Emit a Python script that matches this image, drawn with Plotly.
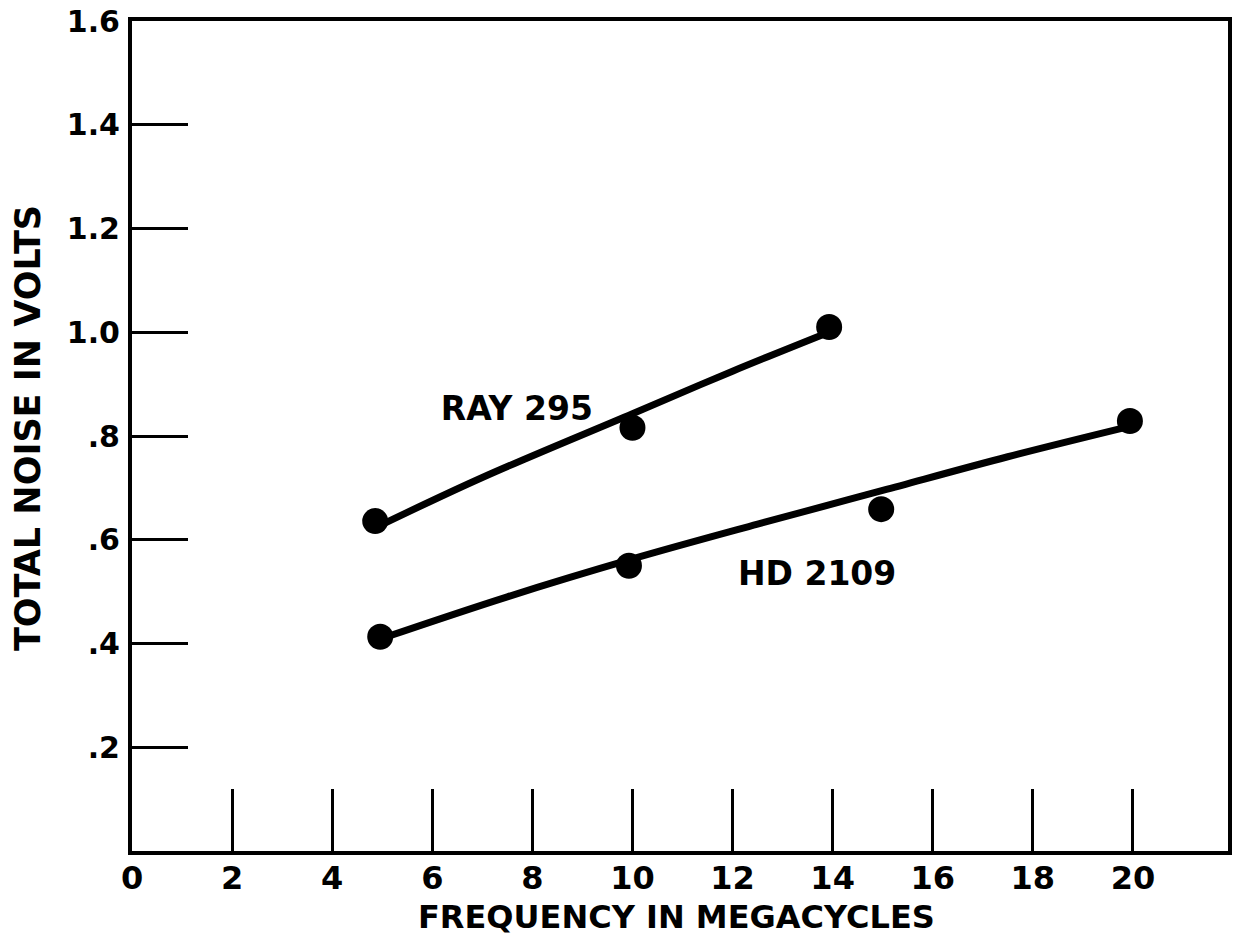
import plotly.graph_objects as go

# Measured points
ray_x = [4.86, 10.0, 13.93]
ray_y = [0.636, 0.816, 1.01]
hd_x = [4.96, 9.93, 14.97, 19.94]
hd_y = [0.413, 0.550, 0.659, 0.829]

# Hand-drawn fitted curves
ray_fit_x = [4.9, 7.0, 10.0, 12.0, 14.0]
ray_fit_y = [0.625, 0.72, 0.843, 0.925, 1.003]
hd_fit_x = [5.0, 7.5, 10.0, 12.5, 15.0, 17.5, 20.0]
hd_fit_y = [0.41, 0.49, 0.563, 0.63, 0.695, 0.76, 0.82]

# Axis ticks
x_ticks = [0, 2, 4, 6, 8, 10, 12, 14, 16, 18, 20]
x_labels = ["0", "2", "4", "6", "8", "10", "12", "14", "16", "18", "20"]
y_ticks = [0.2, 0.4, 0.6, 0.8, 1.0, 1.2, 1.4, 1.6]
y_labels = [".2", ".4", ".6", ".8", "1.0", "1.2", "1.4", "1.6"]

# Curve labels
label_text = ["RAY 295", "HD 2109"]
label_x = [7.69, 13.69]
label_y = [0.846, 0.528]

x_title = "FREQUENCY IN MEGACYCLES"
y_title = "TOTAL NOISE IN VOLTS"

FONT = "DejaVu Sans"

fig = go.Figure()
fig.add_trace(go.Scatter(x=ray_fit_x, y=ray_fit_y, mode="lines",
                         line=dict(color="black", width=7, shape="spline"),
                         showlegend=False, hoverinfo="skip"))
fig.add_trace(go.Scatter(x=hd_fit_x, y=hd_fit_y, mode="lines",
                         line=dict(color="black", width=7, shape="spline"),
                         showlegend=False, hoverinfo="skip"))
fig.add_trace(go.Scatter(x=ray_x, y=ray_y, mode="markers",
                         marker=dict(color="black", size=26),
                         showlegend=False, name="RAY 295"))
fig.add_trace(go.Scatter(x=hd_x, y=hd_y, mode="markers",
                         marker=dict(color="black", size=26),
                         showlegend=False, name="HD 2109"))
fig.add_trace(go.Scatter(x=label_x, y=label_y, mode="text", text=label_text,
                         textfont=dict(family=FONT, size=33, color="black", weight="bold"),
                         showlegend=False, hoverinfo="skip"))

fig.update_layout(
    width=1233, height=941,
    margin=dict(l=132, r=5, t=21, b=90),
    paper_bgcolor="white", plot_bgcolor="white",
    font=dict(family=FONT, color="black"),
    annotations=[
        dict(text=x_title, xref="paper", yref="paper", x=0.497, y=-0.0795,
             xanchor="center", yanchor="middle", showarrow=False,
             font=dict(family=FONT, size=32, color="black", weight="bold")),
        dict(text=y_title, xref="paper", yref="paper", x=-0.0949, y=0.5096,
             xanchor="center", yanchor="middle", showarrow=False, textangle=-90,
             font=dict(family=FONT, size=35, color="black", weight="bold")),
    ],
)
fig.update_xaxes(
    range=[0, 21.9], tickvals=x_ticks, ticktext=x_labels,
    ticks="inside", ticklen=62, tickwidth=3, tickcolor="black",
    showline=True, linewidth=4, linecolor="black", mirror=True,
    showgrid=False, zeroline=False, automargin=False,
    tickfont=dict(family=FONT, size=32, color="black", weight="bold"),
    ticklabelstandoff=-4,
)
fig.update_yaxes(
    range=[0, 1.6], tickvals=y_ticks, ticktext=y_labels,
    ticks="inside", ticklen=56, tickwidth=3, tickcolor="black",
    showline=True, linewidth=4, linecolor="black", mirror=True,
    showgrid=False, zeroline=False, automargin=False,
    tickfont=dict(family=FONT, size=30, color="black", weight="bold"),
    ticklabelstandoff=2,
)

fig.write_html("out.html", config={"displayModeBar": False},
               post_script="document.body.style.margin='0';document.body.style.overflow='hidden';")
